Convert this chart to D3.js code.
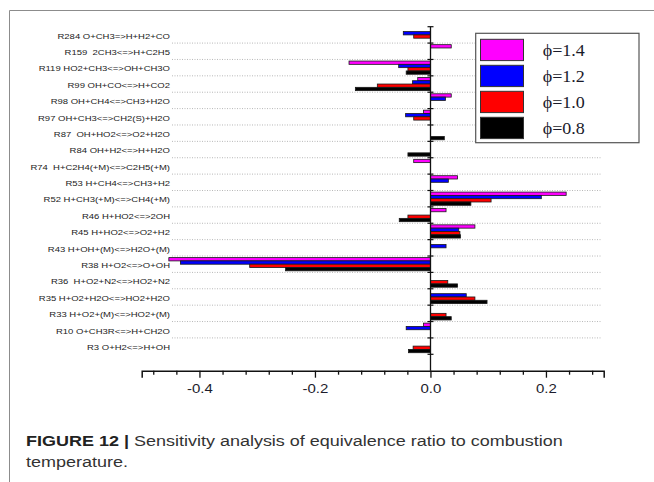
<!DOCTYPE html>
<html>
<head>
<meta charset="utf-8">
<script src="https://cdn.jsdelivr.net/npm/d3@7"></script>
<style>
  html, body { margin: 0; padding: 0; background: #fff; }
  svg { display: block; }
</style>
</head>
<body>
<script>
// Reactions, listed top to bottom
const reactions = [
  "R284 O+CH3=>H+H2+CO",
  "R159  2CH3<=>H+C2H5",
  "R119 HO2+CH3<=>OH+CH3O",
  "R99 OH+CO<=>H+CO2",
  "R98 OH+CH4<=>CH3+H2O",
  "R97 OH+CH3<=>CH2(S)+H2O",
  "R87  OH+HO2<=>O2+H2O",
  "R84 OH+H2<=>H+H2O",
  "R74  H+C2H4(+M)<=>C2H5(+M)",
  "R53 H+CH4<=>CH3+H2",
  "R52 H+CH3(+M)<=>CH4(+M)",
  "R46 H+HO2<=>2OH",
  "R45 H+HO2<=>O2+H2",
  "R43 H+OH+(M)<=>H2O+(M)",
  "R38 H+O2<=>O+OH",
  "R36  H+O2+N2<=>HO2+N2",
  "R35 H+O2+H2O<=>HO2+H2O",
  "R33 H+O2+(M)<=>HO2+(M)",
  "R10 O+CH3R<=>H+CH2O",
  "R3 O+H2<=>H+OH"
];

// Sensitivity coefficients per equivalence ratio
const phi14 = [0, 0.036, -0.141, -0.022, 0.036, -0.012, 0, 0, -0.029, 0.047, 0.235, 0.027, 0.077, 0, -0.453, 0, 0, 0, -0.012, 0];
const phi12 = [-0.047, 0, -0.055, -0.031, 0.026, -0.043, 0, 0, 0, 0.031, 0.192, 0, 0.049, 0.027, -0.433, 0, 0.062, 0, -0.042, 0];
const phi10 = [-0.029, 0, -0.039, -0.092, 0, -0.029, 0, 0, 0, 0, 0.105, -0.039, 0.051, 0, -0.313, 0.030, 0.077, 0.027, 0, -0.030];
const phi08 = [0, 0, -0.042, -0.130, 0, 0, 0.024, -0.039, 0, 0, 0.070, -0.054, 0.052, 0, -0.251, 0.047, 0.098, 0.036, 0, -0.038];

const seriesNames = ["ϕ=1.4", "ϕ=1.2", "ϕ=1.0", "ϕ=0.8"];
const seriesColors = ["#ff00ff", "#0000ff", "#ff0000", "#000000"];
const seriesValues = [phi14, phi12, phi10, phi08];

const majorTicks = [-0.4, -0.2, 0.0, 0.2];
const tickLabels = ["-0.4", "-0.2", "0.0", "0.2"];
const minorTicks = [-0.48, -0.44, -0.36, -0.32, -0.28, -0.24, -0.16, -0.12, -0.08, -0.04, 0.04, 0.08, 0.12, 0.16, 0.24, 0.28];

const captionBold = "FIGURE 12 |";
const captionLine1 = " Sensitivity analysis of equivalence ratio to combustion";
const captionLine2 = "temperature.";

const W = 654, H = 482;
const SQ = 0.85; // vertical squeeze applied to text glyphs

const svg = d3.select("body").append("svg")
  .attr("width", W).attr("height", H);

// page frame
svg.append("path")
  .attr("d", "M9.5,482 V10.5 H654")
  .attr("fill", "none").attr("stroke", "#8c8c8c").attr("stroke-width", 1);

const x = d3.scaleLinear().domain([-0.5, 0.3]).range([141.7, 603.7]);
const y = d3.scaleBand().domain(reactions).range([26.7, 354.3]).padding(0);
const sub = d3.scaleBand().domain(d3.range(4)).range([0, y.bandwidth()]).paddingInner(0).paddingOuter(0.48);
const axisY = 370.7;
const x0 = Math.round(x(0)) + 0.5;

// dotted separators between reactions
const g = svg.append("g");
g.selectAll("line.grid")
  .data(reactions.slice(1))
  .join("line")
  .attr("class", "grid")
  .attr("x1", 172).attr("x2", 602)
  .attr("y1", d => y(d)).attr("y2", d => y(d))
  .attr("stroke", "#b8b8b8").attr("stroke-width", 1)
  .attr("stroke-dasharray", "1,1.5");

// bars
const bars = [];
reactions.forEach((r, i) => {
  seriesValues.forEach((vals, s) => {
    if (vals[i] !== 0) bars.push({ r, s, v: vals[i] });
  });
});
g.selectAll("rect.bar")
  .data(bars)
  .join("rect")
  .attr("class", "bar")
  .attr("x", d => Math.min(x(0), x(d.v)))
  .attr("width", d => Math.abs(x(d.v) - x(0)))
  .attr("y", d => y(d.r) + sub(d.s))
  .attr("height", sub.bandwidth())
  .attr("fill", d => seriesColors[d.s])
  .attr("stroke", "#1a1a1a").attr("stroke-width", 0.8);

// vertical zero axis with ticks at reaction boundaries
svg.append("line")
  .attr("x1", x0).attr("x2", x0)
  .attr("y1", y.range()[0]).attr("y2", axisY)
  .attr("stroke", "#111").attr("stroke-width", 1.3);
const bounds = reactions.map(d => y(d)).concat([y.range()[1]]);
svg.selectAll("line.ytick")
  .data(bounds)
  .join("line")
  .attr("class", "ytick")
  .attr("x1", x0 - 3).attr("x2", x0 + 3)
  .attr("y1", d => d).attr("y2", d => d)
  .attr("stroke", "#111").attr("stroke-width", 1.2);

// reaction labels
svg.selectAll("g.rlabel")
  .data(reactions)
  .join("g")
  .attr("class", "rlabel")
  .attr("transform", d => `translate(170,${y(d) + y.bandwidth() / 2 + 3.8}) scale(1,${SQ})`)
  .append("text")
  .attr("text-anchor", "end")
  .attr("font-family", "Liberation Sans, Arial, sans-serif")
  .attr("font-size", 9.5)
  .attr("fill", "#222")
  .style("white-space", "pre")
  .text(d => d);

// horizontal axis
const xAxis = d3.axisBottom(x)
  .tickValues(majorTicks)
  .tickFormat((d, i) => tickLabels[i])
  .tickSize(7)
  .tickPadding(8.9);
const gx = svg.append("g").attr("transform", `translate(0,${axisY})`).call(xAxis);
gx.select(".domain").attr("stroke", "#111").attr("stroke-width", 1.5);
gx.selectAll(".tick line").attr("stroke", "#111").attr("stroke-width", 1.3);
gx.selectAll(".tick text")
  .attr("font-family", "Liberation Sans, Arial, sans-serif")
  .attr("font-size", 15)
  .attr("fill", "#1c1c2c")
  .attr("transform", `scale(1,${SQ})`);
const gxm = svg.append("g").attr("transform", `translate(0,${axisY})`)
  .call(d3.axisBottom(x).tickValues(minorTicks).tickSize(4).tickFormat(""));
gxm.select(".domain").remove();
gxm.selectAll(".tick line").attr("stroke", "#111").attr("stroke-width", 1.3);

// legend
const lg = svg.append("g");
lg.append("rect")
  .attr("x", 475.7).attr("y", 33.3).attr("width", 163.3).attr("height", 109.4)
  .attr("fill", "#fff").attr("stroke", "#555").attr("stroke-width", 1.2);
const items = lg.selectAll("g.item")
  .data(seriesNames)
  .join("g")
  .attr("class", "item")
  .attr("transform", (d, i) => `translate(0,${39.3 + i * 26})`);
items.append("rect")
  .attr("x", 480.5).attr("y", 0).attr("width", 43).attr("height", 21.3)
  .attr("fill", (d, i) => seriesColors[i])
  .attr("stroke", "#333").attr("stroke-width", 1);
items.append("g")
  .attr("transform", `translate(542.7,16.8) scale(1,0.92)`)
  .append("text")
  .attr("font-family", "Liberation Serif, Times New Roman, serif")
  .attr("font-size", 18)
  .attr("fill", "#1a1a2a")
  .text(d => d);

// caption
const cap1 = svg.append("g").attr("transform", `translate(26,446) scale(1,${SQ})`)
  .append("text")
  .attr("font-family", "Liberation Sans, Arial, sans-serif")
  .attr("font-size", 18)
  .attr("fill", "#333")
  .style("white-space", "pre");
cap1.append("tspan").attr("font-weight", "bold").attr("fill", "#222").text(captionBold);
cap1.append("tspan").text(captionLine1);
svg.append("g").attr("transform", `translate(26,467) scale(1,${SQ})`)
  .append("text")
  .attr("font-family", "Liberation Sans, Arial, sans-serif")
  .attr("font-size", 18)
  .attr("fill", "#333")
  .text(captionLine2);
</script>
</body>
</html>
